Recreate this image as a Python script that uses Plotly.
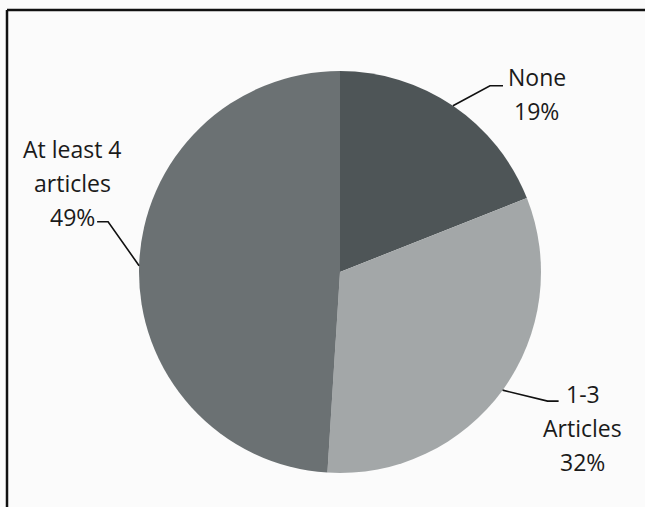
import math
import plotly.graph_objects as go

labels = ["None", "1-3 Articles", "At least 4 articles"]
label_lines = [["None", "19%"], ["1-3", "Articles", "32%"], ["At least 4", "articles", "49%"]]
values = [19, 32, 49]
colors = ["#4e5557", "#a3a7a8", "#6b7173"]

W, H = 645, 507
cx, cy, r = 340, 272, 201  # pie centre / radius in pixels

# leader-line geometry (pixel offsets from the slice-edge anchor)
elbow_off = [(37, -20), (45, 11), (-31, -44)]
end_off = [(50, -20), (56, 11), (-42, -44)]
text_off = [(84, -12), (80, 38), (-67, -83)]
LINE_GAP = 34

def px(x):
    return x / W

def py(y):
    return 1 - y / H

fig = go.Figure(go.Pie(
    labels=labels,
    values=values,
    sort=False,
    direction="clockwise",
    rotation=0,
    marker=dict(colors=colors, line=dict(width=0)),
    textinfo="none",
    hoverinfo="label+percent",
    showlegend=False,
    domain=dict(x=[px(cx - r), px(cx + r)], y=[py(cy + r), py(cy - r)]),
))

total = sum(values)
cum = 0
shapes = []
annotations = []
for i, v in enumerate(values):
    mid = (cum + v / 2) / total * 2 * math.pi
    cum += v
    ax = cx + r * math.sin(mid)
    ay = cy - r * math.cos(mid)
    ex, ey = ax + elbow_off[i][0], ay + elbow_off[i][1]
    fx, fy = ax + end_off[i][0], ay + end_off[i][1]
    path = f"M {px(ax)} {py(ay)} L {px(ex)} {py(ey)} L {px(fx)} {py(fy)}"
    shapes.append(dict(type="path", xref="paper", yref="paper", path=path,
                       line=dict(color="#111111", width=1.6)))
    tx, ty = ax + text_off[i][0], ay + text_off[i][1]
    n = len(label_lines[i])
    for k, line in enumerate(label_lines[i]):
        ly = ty + (k - (n - 1) / 2) * LINE_GAP
        annotations.append(dict(x=px(tx), y=py(ly), xref="paper", yref="paper",
                                text=line, showarrow=False,
                                xanchor="center", yanchor="middle", align="center",
                                font=dict(family="Open Sans", size=23, color="#1a1a1a")))

# frame (top and left edges)
shapes.append(dict(type="line", xref="paper", yref="paper",
                   x0=px(7), y0=py(10), x1=1.02, y1=py(10),
                   line=dict(color="#111111", width=2.5)))
shapes.append(dict(type="line", xref="paper", yref="paper",
                   x0=px(7), y0=py(10), x1=px(7), y1=-0.02,
                   line=dict(color="#111111", width=2.5)))

fig.update_layout(
    width=W, height=H,
    margin=dict(l=0, r=0, t=0, b=0),
    paper_bgcolor="#fbfbfb",
    plot_bgcolor="#fbfbfb",
    shapes=shapes,
    annotations=annotations,
)

fig.write_html("out.html",
               config={"displayModeBar": False},
               post_script=("document.body.style.margin='0';"
                            "document.body.style.overflow='hidden';"
                            "document.documentElement.style.overflow='hidden';"))
